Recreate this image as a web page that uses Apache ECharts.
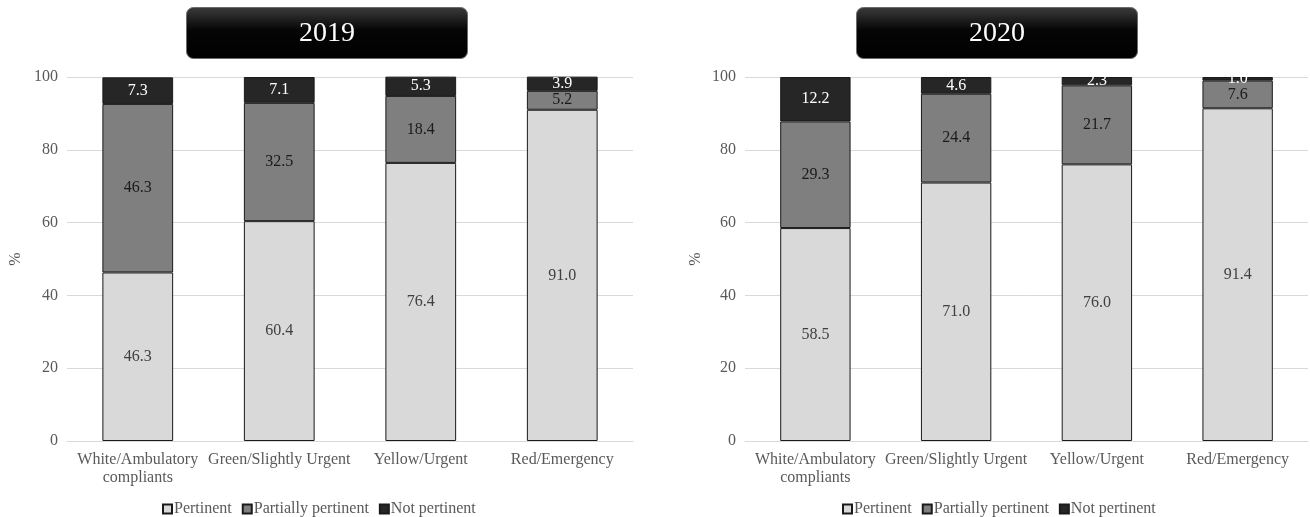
<!DOCTYPE html>
<html>
<head>
<meta charset="utf-8">
<script src="https://cdn.jsdelivr.net/npm/echarts@6/dist/echarts.min.js"></script>
<style>
  html, body { margin: 0; padding: 0; background: #fff; }
  #chart { width: 1310px; height: 517px; }
</style>
</head>
<body>
<div id="chart"></div>
<script>
// Triage categories and appropriateness shares (%), per year
const categories = ['White/Ambulatory\ncompliants', 'Green/Slightly Urgent', 'Yellow/Urgent', 'Red/Emergency'];
const seriesNames = ['Pertinent', 'Partially pertinent', 'Not pertinent'];
const years = ['2019', '2020'];

const pertinent2019 = [46.3, 60.4, 76.4, 91.0];
const partially2019 = [46.3, 32.5, 18.4, 5.2];
const notPertinent2019 = [7.3, 7.1, 5.3, 3.9];

const pertinent2020 = [58.5, 71.0, 76.0, 91.4];
const partially2020 = [29.3, 24.4, 21.7, 7.6];
const notPertinent2020 = [12.2, 4.6, 2.3, 1.0];

const yTicks = { min: 0, max: 100, interval: 20 };

const FONT = '"Liberation Serif", "Times New Roman", serif';
const GREY_TEXT = '#595959';
const fills = ['#d9d9d9', '#7f7f7f', '#262626'];
const labelColors = ['#404040', '#1a1a1a', '#ffffff'];

const yearData = [
  [pertinent2019, partially2019, notPertinent2019],
  [pertinent2020, partially2020, notPertinent2020]
];

const grids = [
  { left: 67, width: 566, top: 77, height: 364 },
  { left: 745, width: 563, top: 77, height: 364 }
];

const xAxes = grids.map((g, i) => ({
  type: 'category',
  gridIndex: i,
  data: categories,
  axisTick: { show: false },
  axisLine: { lineStyle: { color: '#d9d9d9', width: 1 } },
  axisLabel: {
    color: GREY_TEXT, fontFamily: FONT, fontSize: 16, margin: 10,
    lineHeight: 18, interval: 0
  }
}));

const yAxes = grids.map((g, i) => ({
  type: 'value',
  gridIndex: i,
  min: yTicks.min, max: yTicks.max, interval: yTicks.interval,
  name: '%',
  nameLocation: 'middle',
  nameGap: i === 0 ? 43 : 41,
  nameRotate: 90,
  nameTextStyle: { color: GREY_TEXT, fontFamily: FONT, fontSize: 16 },
  axisLine: { show: false },
  axisTick: { show: false },
  axisLabel: { color: GREY_TEXT, fontFamily: FONT, fontSize: 16, margin: 9 },
  splitLine: { lineStyle: { color: '#d9d9d9', width: 1 } }
}));

const series = [];
years.forEach((yr, yi) => {
  seriesNames.forEach((name, si) => {
    series.push({
      name: name,
      type: 'bar',
      stack: 'year' + yr,
      xAxisIndex: yi,
      yAxisIndex: yi,
      barWidth: '50%',
      data: yearData[yi][si],
      itemStyle: { color: fills[si], borderColor: '#1a1a1a', borderWidth: 1 },
      label: {
        show: true,
        position: 'inside',
        color: labelColors[si],
        fontFamily: FONT,
        fontSize: 16,
        formatter: p => p.value.toFixed(1)
      },
      emphasis: { disabled: true },
      animation: false
    });
  });
});

// Year banners above each panel
function banner(x, text) {
  return {
    type: 'group',
    left: x, top: 7,
    children: [
      {
        type: 'rect',
        shape: { x: 0, y: 0, width: 281, height: 51, r: 7 },
        style: {
          fill: new echarts.graphic.LinearGradient(0, 0, 0, 1, [
            { offset: 0, color: '#3c3c3c' },
            { offset: 0.45, color: '#050505' },
            { offset: 1, color: '#000000' }
          ]),
          stroke: '#6b6b6b',
          lineWidth: 1
        }
      },
      {
        type: 'text',
        x: 140.5, y: 26,
        style: {
          text: text, fill: '#ffffff', font: '28px ' + FONT,
          align: 'center', verticalAlign: 'middle'
        }
      }
    ]
  };
}

const legendBase = {
  data: seriesNames,
  top: 499,
  padding: 2,
  itemWidth: 9,
  itemHeight: 9,
  itemGap: 10,
  icon: 'rect',
  textStyle: { color: GREY_TEXT, fontFamily: FONT, fontSize: 16, padding: [0, 0, 0, -3] },
  selectedMode: false
};

const chart = echarts.init(document.getElementById('chart'), null, { renderer: 'canvas' });
chart.setOption({
  backgroundColor: '#ffffff',
  animation: false,
  grid: grids,
  xAxis: xAxes,
  yAxis: yAxes,
  legend: [
    Object.assign({}, legendBase, { left: 160 }),
    Object.assign({}, legendBase, { left: 840 })
  ],
  graphic: [banner(186, years[0]), banner(856, years[1])],
  series: series
});
</script>
</body>
</html>
